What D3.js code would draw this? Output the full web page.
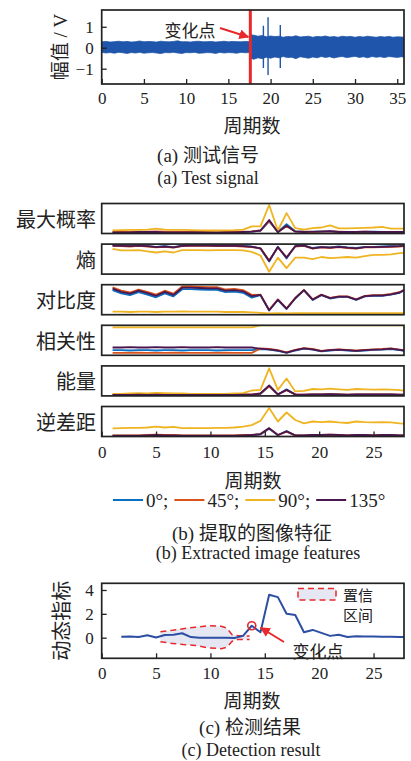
<!DOCTYPE html>
<html>
<head>
<meta charset="utf-8">
<script src="https://cdn.jsdelivr.net/npm/d3@7"></script>
<style>
  body { margin: 0; background: #fff; }
  svg { display: block; }
  text { font-family: "Liberation Serif", "Noto Sans CJK SC", serif; fill: #222; }
  .cjk { font-family: "Noto Sans CJK SC", "Liberation Serif", sans-serif; }
</style>
</head>
<body>
<svg id="chart" width="411" height="761"></svg>
<script>
// ---------------- data ----------------
// (a) test signal: amplitude envelope of the vibration record, plus isolated spikes
const signalCycles = [0,0.5,1,1.5,2,2.5,3,3.5,4,4.5,5,5.5,6,6.5,7,7.5,8,8.5,9,9.5,10,10.5,11,11.5,12,12.5,13,13.5,14,14.5,15,15.5,16,16.5,17,17.5,
  17.6,18,18.5,19,19.5,20,20.5,21,21.5,22,22.5,23,23.5,24,24.5,25,25.5,26,26.5,27,27.5,28,28.5,29,29.5,30,30.5,31,31.5,32,32.5,33,33.5,34,34.5,35,35.5,35.8];
const signalUpper = [0.28,0.30,0.27,0.29,0.31,0.28,0.30,0.27,0.29,0.32,0.28,0.30,0.29,0.27,0.31,0.29,0.28,0.30,0.33,0.28,0.29,0.27,0.30,0.31,0.28,0.29,0.30,0.27,0.29,0.31,0.28,0.30,0.29,0.28,0.30,0.29,
  0.62,0.60,0.55,0.58,0.52,0.56,0.53,0.55,0.50,0.54,0.52,0.57,0.51,0.53,0.55,0.50,0.54,0.52,0.56,0.51,0.53,0.50,0.55,0.52,0.54,0.50,0.53,0.51,0.55,0.52,0.50,0.53,0.51,0.54,0.50,0.52,0.51,0.50];
const signalLower = [-0.22,-0.25,-0.23,-0.26,-0.22,-0.24,-0.27,-0.23,-0.25,-0.22,-0.26,-0.24,-0.23,-0.25,-0.28,-0.23,-0.24,-0.22,-0.25,-0.27,-0.23,-0.24,-0.22,-0.26,-0.25,-0.23,-0.24,-0.27,-0.22,-0.25,-0.23,-0.24,-0.26,-0.22,-0.24,-0.23,
  -0.50,-0.55,-0.48,-0.52,-0.45,-0.50,-0.44,-0.48,-0.42,-0.47,-0.45,-0.52,-0.43,-0.46,-0.50,-0.44,-0.48,-0.42,-0.46,-0.43,-0.49,-0.44,-0.42,-0.47,-0.44,-0.41,-0.46,-0.43,-0.48,-0.42,-0.45,-0.43,-0.47,-0.42,-0.44,-0.46,-0.43,-0.45];
const spikeCycles = [19.15, 19.7, 21.15];
const spikeHigh = [1.05, 1.45, 1.08];
const spikeLow = [-0.97, -1.30, -0.97];
const signalChange = 17.6;
const signalXTicks = [0, 5, 10, 15, 20, 25, 30, 35];
const signalYTicks = [-1, 0, 1];

// (b) GLCM image features per analysis window (normalised per feature)
const cycles = [1.0,1.8,2.6,3.4,4.2,5.0,5.8,6.6,7.4,8.2,9.0,9.8,10.6,11.4,12.2,13.0,13.8,14.6,15.4,16.2,17.0,17.8,18.6,19.4,20.2,21.0,21.8,22.6,23.4,24.2,25.0,25.8,26.6,27.4,28.2];
const angleLabels = ["0°", "45°", "90°", "135°"];
const featureNames = ["最大概率", "熵", "对比度", "相关性", "能量", "逆差距"];

const maxProb0   = [0.03,0.03,0.04,0.04,0.05,0.04,0.04,0.03,0.03,0.04,0.04,0.03,0.03,0.03,0.04,0.05,0.06,0.09,0.40,0.05,0.31,0.08,0.06,0.05,0.07,0.07,0.05,0.04,0.05,0.05,0.06,0.05,0.04,0.05,0.04];
const maxProb45  = [0.06,0.06,0.05,0.06,0.06,0.07,0.06,0.05,0.05,0.05,0.05,0.05,0.04,0.05,0.05,0.06,0.07,0.10,0.42,0.05,0.25,0.07,0.06,0.05,0.06,0.07,0.06,0.05,0.05,0.06,0.05,0.05,0.05,0.04,0.05];
const maxProb90  = [0.10,0.11,0.12,0.12,0.13,0.16,0.13,0.12,0.12,0.11,0.10,0.10,0.10,0.10,0.11,0.13,0.24,0.24,0.95,0.10,0.68,0.18,0.13,0.18,0.20,0.27,0.17,0.17,0.18,0.19,0.20,0.22,0.16,0.16,0.16];
const maxProb135 = [0.04,0.04,0.04,0.05,0.05,0.05,0.04,0.04,0.04,0.04,0.04,0.03,0.03,0.04,0.04,0.05,0.06,0.10,0.45,0.04,0.26,0.06,0.05,0.06,0.06,0.08,0.05,0.05,0.05,0.06,0.05,0.05,0.05,0.05,0.05];

const entropy0   = [0.96,0.95,0.94,0.96,0.94,0.91,0.93,0.90,0.95,0.96,0.96,0.96,0.95,0.95,0.95,0.94,0.92,0.85,0.42,0.91,0.52,0.94,0.96,0.87,0.91,0.89,0.92,0.89,0.87,0.91,0.91,0.92,0.93,0.94,0.96];
const entropy45  = [0.94,0.93,0.92,0.94,0.92,0.89,0.91,0.88,0.93,0.94,0.94,0.94,0.93,0.93,0.93,0.92,0.90,0.86,0.46,0.89,0.56,0.92,0.94,0.85,0.89,0.87,0.90,0.87,0.85,0.89,0.89,0.90,0.91,0.92,0.94];
const entropy90  = [0.84,0.79,0.79,0.80,0.76,0.72,0.76,0.72,0.80,0.80,0.80,0.79,0.80,0.80,0.80,0.79,0.74,0.62,0.08,0.55,0.20,0.55,0.55,0.50,0.57,0.53,0.55,0.57,0.55,0.60,0.64,0.64,0.66,0.70,0.72];
const entropy135 = [0.95,0.94,0.93,0.95,0.93,0.90,0.92,0.89,0.94,0.95,0.95,0.95,0.94,0.94,0.94,0.93,0.91,0.86,0.44,0.90,0.55,0.93,0.95,0.86,0.90,0.88,0.91,0.88,0.86,0.90,0.90,0.91,0.92,0.93,0.95];

const contrast0   = [0.82,0.71,0.65,0.75,0.67,0.58,0.71,0.61,0.85,0.85,0.84,0.83,0.83,0.75,0.77,0.73,0.57,0.65,0.14,0.49,0.19,0.54,0.81,0.49,0.65,0.54,0.59,0.59,0.49,0.61,0.63,0.63,0.67,0.73,0.89];
const contrast45  = [0.91,0.80,0.74,0.84,0.76,0.67,0.80,0.70,0.94,0.94,0.93,0.92,0.92,0.84,0.86,0.82,0.66,0.67,0.16,0.51,0.21,0.56,0.83,0.51,0.67,0.56,0.61,0.61,0.51,0.63,0.65,0.65,0.69,0.75,0.91];
const contrast90  = [0.10,0.10,0.09,0.10,0.10,0.09,0.10,0.10,0.11,0.10,0.10,0.10,0.10,0.09,0.09,0.09,0.08,0.06,0.04,0.05,0.04,0.05,0.05,0.05,0.05,0.05,0.05,0.05,0.05,0.05,0.05,0.05,0.05,0.05,0.05];
const contrast135 = [0.87,0.76,0.70,0.80,0.72,0.63,0.76,0.66,0.90,0.90,0.89,0.88,0.88,0.80,0.82,0.78,0.62,0.66,0.15,0.50,0.20,0.55,0.82,0.50,0.66,0.55,0.60,0.60,0.50,0.62,0.64,0.64,0.68,0.74,0.90];

const correlation0   = [0.17,0.17,0.16,0.17,0.17,0.16,0.17,0.17,0.16,0.17,0.17,0.17,0.16,0.17,0.17,0.17,0.17,0.21,0.19,0.15,0.08,0.16,0.22,0.19,0.13,0.16,0.18,0.16,0.14,0.16,0.18,0.19,0.21,0.17,0.13];
const correlation45  = [0.08,0.08,0.08,0.09,0.08,0.08,0.08,0.09,0.08,0.08,0.08,0.08,0.08,0.09,0.08,0.08,0.08,0.23,0.21,0.17,0.10,0.18,0.24,0.21,0.15,0.18,0.20,0.18,0.16,0.18,0.20,0.21,0.23,0.19,0.15];
const correlation90  = [0.93,0.93,0.93,0.93,0.93,0.93,0.93,0.93,0.93,0.93,0.93,0.93,0.93,0.93,0.93,0.93,0.93,1,1,1,1,1,1,1,1,1,1,1,1,1,1,1,1,1,1];
const correlation135 = [0.26,0.26,0.27,0.26,0.26,0.27,0.26,0.26,0.27,0.26,0.26,0.26,0.27,0.26,0.26,0.26,0.26,0.22,0.20,0.16,0.09,0.17,0.23,0.20,0.14,0.17,0.19,0.17,0.15,0.17,0.19,0.20,0.22,0.18,0.14];

const energy0   = [0.02,0.02,0.02,0.03,0.02,0.03,0.02,0.02,0.02,0.02,0.02,0.02,0.02,0.02,0.02,0.03,0.03,0.07,0.32,0.04,0.22,0.04,0.03,0.04,0.04,0.05,0.04,0.03,0.04,0.04,0.04,0.04,0.04,0.03,0.03];
const energy45  = [0.05,0.05,0.05,0.05,0.05,0.06,0.05,0.05,0.05,0.05,0.05,0.05,0.05,0.05,0.05,0.05,0.05,0.08,0.33,0.05,0.19,0.05,0.04,0.05,0.05,0.06,0.05,0.04,0.05,0.05,0.05,0.05,0.05,0.04,0.04];
const energy90  = [0.07,0.07,0.08,0.09,0.08,0.10,0.09,0.08,0.08,0.07,0.07,0.07,0.07,0.07,0.08,0.09,0.18,0.20,0.92,0.20,0.58,0.15,0.17,0.23,0.22,0.24,0.22,0.20,0.23,0.22,0.21,0.22,0.21,0.19,0.16];
const energy135 = [0.03,0.03,0.03,0.04,0.03,0.04,0.03,0.03,0.03,0.03,0.03,0.03,0.03,0.03,0.03,0.04,0.04,0.08,0.35,0.05,0.20,0.05,0.04,0.05,0.05,0.06,0.05,0.04,0.05,0.05,0.05,0.05,0.05,0.04,0.04];

const idm0   = [0.02,0.02,0.02,0.02,0.03,0.04,0.03,0.03,0.02,0.02,0.02,0.02,0.02,0.02,0.02,0.03,0.04,0.07,0.26,0.04,0.18,0.03,0.03,0.04,0.04,0.05,0.04,0.03,0.04,0.04,0.03,0.04,0.04,0.03,0.03];
const idm45  = [0.04,0.04,0.04,0.04,0.05,0.06,0.05,0.05,0.04,0.04,0.04,0.04,0.04,0.04,0.04,0.05,0.05,0.08,0.27,0.05,0.16,0.04,0.04,0.05,0.05,0.06,0.05,0.04,0.05,0.05,0.04,0.05,0.05,0.04,0.04];
const idm90  = [0.27,0.28,0.29,0.29,0.30,0.33,0.30,0.32,0.28,0.28,0.28,0.28,0.29,0.29,0.30,0.33,0.38,0.52,0.95,0.50,0.80,0.55,0.44,0.50,0.48,0.50,0.47,0.45,0.50,0.48,0.47,0.48,0.47,0.44,0.42];
const idm135 = [0.03,0.03,0.03,0.03,0.04,0.05,0.04,0.04,0.03,0.03,0.03,0.03,0.03,0.03,0.03,0.04,0.05,0.08,0.28,0.05,0.17,0.04,0.04,0.05,0.05,0.06,0.05,0.04,0.05,0.05,0.04,0.05,0.05,0.04,0.04];

const featureXTicks = [0, 5, 10, 15, 20, 25];

// (c) detection result: dynamic index and confidence interval
const detCycles = [1.8,2.6,3.4,4.2,5.0,5.8,6.6,7.4,8.2,9.0,9.8,10.6,11.4,12.2,13.0,13.8,14.6,15.4,16.2,17.0,17.8,18.6,19.4,20.2,21.0,21.8,22.6,23.4,24.2,25.0,25.8,26.6,27.4,28.2];
const detIndex  = [0.08,0.10,0.05,0.20,0.02,0.22,0.25,0.37,0.05,0.00,0.00,0.00,0.00,-0.03,0.15,1.00,0.45,3.60,3.40,2.00,1.90,0.45,0.65,0.40,0.15,0.25,0.05,0.12,0.10,0.10,0.08,0.07,0.06,0.05];
const ciCycles = [5.4,6.5,7.5,8.6,9.8,11.0,11.5,12.0,12.5,13.0,13.6];
const ciUpper  = [0.50,0.62,0.75,0.88,1.00,0.95,0.80,0.25,0.18,0.15,0.15];
const ciLower  = [-0.35,-0.48,-0.58,-0.65,-0.85,-0.92,-0.80,-0.30,-0.15,-0.15,-0.15];
const detChangeCycle = 13.8;
const detYTicks = [0, 2, 4];
const detXTicks = [0, 5, 10, 15, 20, 25];

// ---------------- drawing ----------------
const svg = d3.select("#chart");
const INK = "#222";
const RED = "#e8282b";
const angleColors = ["#0a6fc0", "#d9541c", "#efb421", "#4a1650"];
const plotLeft = 101.7, plotRight = 404;
const intLabel = d => (d < 0 ? "\u2212" + Math.abs(d) : String(d));

const defs = svg.append("defs");
defs.append("marker").attr("id", "arrow").attr("viewBox", "0 0 10 10")
  .attr("refX", 9).attr("refY", 5).attr("markerWidth", 5).attr("markerHeight", 5)
  .attr("orient", "auto-start-reverse").attr("markerUnits", "strokeWidth")
  .append("path").attr("d", "M0,0 L10,5 L0,10 z").attr("fill", RED);

function clip(id, x, y, w, h) {
  defs.append("clipPath").attr("id", id).append("rect")
    .attr("x", x).attr("y", y).attr("width", w).attr("height", h);
  return `url(#${id})`;
}
function frame(x, y, w, h) {
  svg.append("rect").attr("x", x).attr("y", y).attr("width", w).attr("height", h)
    .attr("fill", "none").attr("stroke", INK).attr("stroke-width", 1.7);
}
function styleAxis(g) {
  g.attr("font-family", null).attr("font-size", null);
  g.select(".domain").remove();
  g.selectAll(".tick line").attr("stroke", INK).attr("stroke-width", 1.3);
  g.selectAll(".tick text").attr("font-size", 17).attr("fill", INK)
    .attr("font-family", "Liberation Serif")
    .style("font-family", "'Liberation Serif', serif");
}
function centerText(x, y, str, size, cls) {
  return svg.append("text").attr("x", x).attr("y", y).attr("text-anchor", "middle")
    .attr("dominant-baseline", "central").attr("font-size", size)
    .attr("class", cls || null).text(str);
}

// ===== (a) test signal =====
{
  const top = 10, bottom = 84;
  const x = d3.scaleLinear().domain([0, 35.8]).range([plotLeft, plotRight]);
  const y = d3.scaleLinear().domain([-1.73, 1.8]).range([bottom, top]);
  const cp = clip("clipA", plotLeft, top, plotRight - plotLeft, bottom - top);
  const g = svg.append("g").attr("clip-path", cp);

  const env = signalCycles.map((c, i) => [c, signalUpper[i], signalLower[i]]);
  g.append("path").datum(env)
    .attr("d", d3.area().x(d => x(d[0])).y0(d => y(d[2])).y1(d => y(d[1])))
    .attr("fill", "#1f55aa").attr("stroke", "#1f55aa").attr("stroke-width", 0.8);
  g.selectAll("line.spike").data(spikeCycles).join("line").attr("class", "spike")
    .attr("x1", d => x(d)).attr("x2", d => x(d))
    .attr("y1", (d, i) => y(spikeHigh[i])).attr("y2", (d, i) => y(spikeLow[i]))
    .attr("stroke", "#1f55aa").attr("stroke-width", 1.4);
  g.append("line").attr("x1", x(signalChange)).attr("x2", x(signalChange))
    .attr("y1", top).attr("y2", bottom).attr("stroke", RED).attr("stroke-width", 3);

  const ax = svg.append("g").attr("transform", `translate(0,${bottom})`)
    .call(d3.axisBottom(x).tickValues(signalXTicks).tickFormat(intLabel)
      .tickSizeInner(-5).tickSizeOuter(0).tickPadding(8));
  styleAxis(ax);
  const ay = svg.append("g").attr("transform", `translate(${plotLeft},0)`)
    .call(d3.axisLeft(y).tickValues(signalYTicks).tickFormat(intLabel)
      .tickSizeInner(-5).tickSizeOuter(0).tickPadding(8));
  styleAxis(ay);
  frame(plotLeft, top, plotRight - plotLeft, bottom - top);

  svg.append("text").attr("transform", `translate(60,${(top + bottom) / 2}) rotate(-90)`)
    .attr("text-anchor", "middle").attr("dominant-baseline", "central")
    .attr("font-size", 19).text("幅值 / V");
  centerText(252, 124, "周期数", 19, "cjk");
  centerText(190, 29, "变化点", 17, "cjk");
  svg.append("line").attr("x1", 220).attr("y1", 28).attr("x2", x(signalChange) - 2).attr("y2", 37)
    .attr("stroke", RED).attr("stroke-width", 2).attr("marker-end", "url(#arrow)");
  centerText(208, 155, "(a) 测试信号", 19);
  centerText(208, 178, "(a) Test signal", 18);
}

// ===== (b) extracted image features =====
{
  const features = [
    [maxProb0, maxProb45, maxProb90, maxProb135],
    [entropy0, entropy45, entropy90, entropy135],
    [contrast0, contrast45, contrast90, contrast135],
    [correlation0, correlation45, correlation90, correlation135],
    [energy0, energy45, energy90, energy135],
    [idm0, idm45, idm90, idm135]
  ];
  const x = d3.scaleLinear().domain([0, 27.8]).range([plotLeft, plotRight]);
  const panelH = 30, firstTop = 203.5, step = 40.6;
  let lastBottom = 0;
  features.forEach((series, k) => {
    const top = firstTop + k * step, bottom = top + panelH;
    lastBottom = bottom;
    const y = d3.scaleLinear().domain([0, 1]).range([bottom, top]);
    const cp = clip("clipB" + k, plotLeft, top, plotRight - plotLeft, panelH);
    const g = svg.append("g").attr("clip-path", cp);
    const line = d3.line().x((d, i) => x(cycles[i])).y(d => y(d));
    series.forEach((vals, a) => {
      g.append("path").datum(vals).attr("d", line).attr("fill", "none")
        .attr("stroke", angleColors[a]).attr("stroke-width", 1.8).attr("stroke-linejoin", "round");
    });
    frame(plotLeft, top, plotRight - plotLeft, panelH);
    svg.append("text").attr("x", 96).attr("y", (top + bottom) / 2)
      .attr("text-anchor", "end").attr("dominant-baseline", "central")
      .attr("font-size", 20).attr("class", "cjk").text(featureNames[k]);
  });
  const ax = svg.append("g").attr("transform", `translate(0,${lastBottom})`)
    .call(d3.axisBottom(x).tickValues(featureXTicks).tickFormat(intLabel)
      .tickSizeInner(-5).tickSizeOuter(0).tickPadding(9));
  styleAxis(ax);
  centerText(253, 479, "周期数", 19, "cjk");

  // legend
  let lx = 113;
  const ly = 500;
  angleLabels.forEach((lab, a) => {
    svg.append("line").attr("x1", lx).attr("x2", lx + 30).attr("y1", ly).attr("y2", ly)
      .attr("stroke", angleColors[a]).attr("stroke-width", 2);
    lx += 33;
    const t = svg.append("text").attr("x", lx).attr("y", ly).attr("dominant-baseline", "central")
      .attr("font-size", 19).text(lab + (a < angleLabels.length - 1 ? ";" : ""));
    lx += t.node().getComputedTextLength() + 6;
  });
  centerText(252, 533, "(b) 提取的图像特征", 19);
  centerText(258, 553, "(b) Extracted image features", 18);
}

// ===== (c) detection result =====
{
  const top = 583.3, bottom = 658.3;
  const x = d3.scaleLinear().domain([0, 27.8]).range([plotLeft, plotRight]);
  const y = d3.scaleLinear().domain([-1.73, 4.56]).range([bottom, top]);
  const cp = clip("clipC", plotLeft, top, plotRight - plotLeft, bottom - top);
  const g = svg.append("g").attr("clip-path", cp);

  const ci = ciCycles.map((c, i) => [c, ciUpper[i], ciLower[i]]);
  g.append("path").datum(ci)
    .attr("d", d3.area().x(d => x(d[0])).y0(d => y(d[2])).y1(d => y(d[1])))
    .attr("fill", "#e5e7f3");
  [1, 2].forEach(j => {
    g.append("path").datum(ci)
      .attr("d", d3.line().x(d => x(d[0])).y(d => y(d[j])))
      .attr("fill", "none").attr("stroke", RED).attr("stroke-width", 1.5)
      .attr("stroke-dasharray", "6,4");
  });

  const det = detCycles.map((c, i) => [c, detIndex[i]]);
  g.append("path").datum(det)
    .attr("d", d3.line().x(d => x(d[0])).y(d => y(d[1])))
    .attr("fill", "none").attr("stroke", "#2c4ea3").attr("stroke-width", 2).attr("stroke-linejoin", "round");

  const ci0 = detCycles.indexOf(detChangeCycle);
  svg.append("circle").attr("cx", x(detChangeCycle)).attr("cy", y(detIndex[ci0])).attr("r", 4)
    .attr("fill", "none").attr("stroke", RED).attr("stroke-width", 1.6);

  const ax = svg.append("g").attr("transform", `translate(0,${bottom})`)
    .call(d3.axisBottom(x).tickValues(detXTicks).tickFormat(intLabel)
      .tickSizeInner(-5).tickSizeOuter(0).tickPadding(9));
  styleAxis(ax);
  const ay = svg.append("g").attr("transform", `translate(${plotLeft},0)`)
    .call(d3.axisLeft(y).tickValues(detYTicks).tickFormat(intLabel)
      .tickSizeInner(-5).tickSizeOuter(0).tickPadding(8));
  styleAxis(ay);
  frame(plotLeft, top, plotRight - plotLeft, bottom - top);

  // legend for the confidence interval
  svg.append("rect").attr("x", 298).attr("y", 588.5).attr("width", 38).attr("height", 11.5)
    .attr("fill", "#e5e7f3").attr("stroke", RED).attr("stroke-width", 1.5).attr("stroke-dasharray", "6,4");
  svg.append("text").attr("x", 343).attr("y", 594).attr("dominant-baseline", "central")
    .attr("font-size", 15).attr("class", "cjk").text("置信");
  svg.append("text").attr("x", 343).attr("y", 614.5).attr("dominant-baseline", "central")
    .attr("font-size", 15).attr("class", "cjk").text("区间");

  // change point annotation
  svg.append("line").attr("x1", 284).attr("y1", 642).attr("x2", x(detChangeCycle) + 9).attr("y2", y(detIndex[ci0]) + 2)
    .attr("stroke", RED).attr("stroke-width", 2).attr("marker-end", "url(#arrow)");
  centerText(318, 650, "变化点", 17, "cjk");

  svg.append("text").attr("transform", `translate(60,${(top + bottom) / 2}) rotate(-90)`)
    .attr("text-anchor", "middle").attr("dominant-baseline", "central")
    .attr("font-size", 20).attr("class", "cjk").text("动态指标");
  centerText(252, 699, "周期数", 19, "cjk");
  centerText(250, 727, "(c) 检测结果", 19);
  centerText(251, 750, "(c) Detection result", 18);
}
</script>
</body>
</html>
